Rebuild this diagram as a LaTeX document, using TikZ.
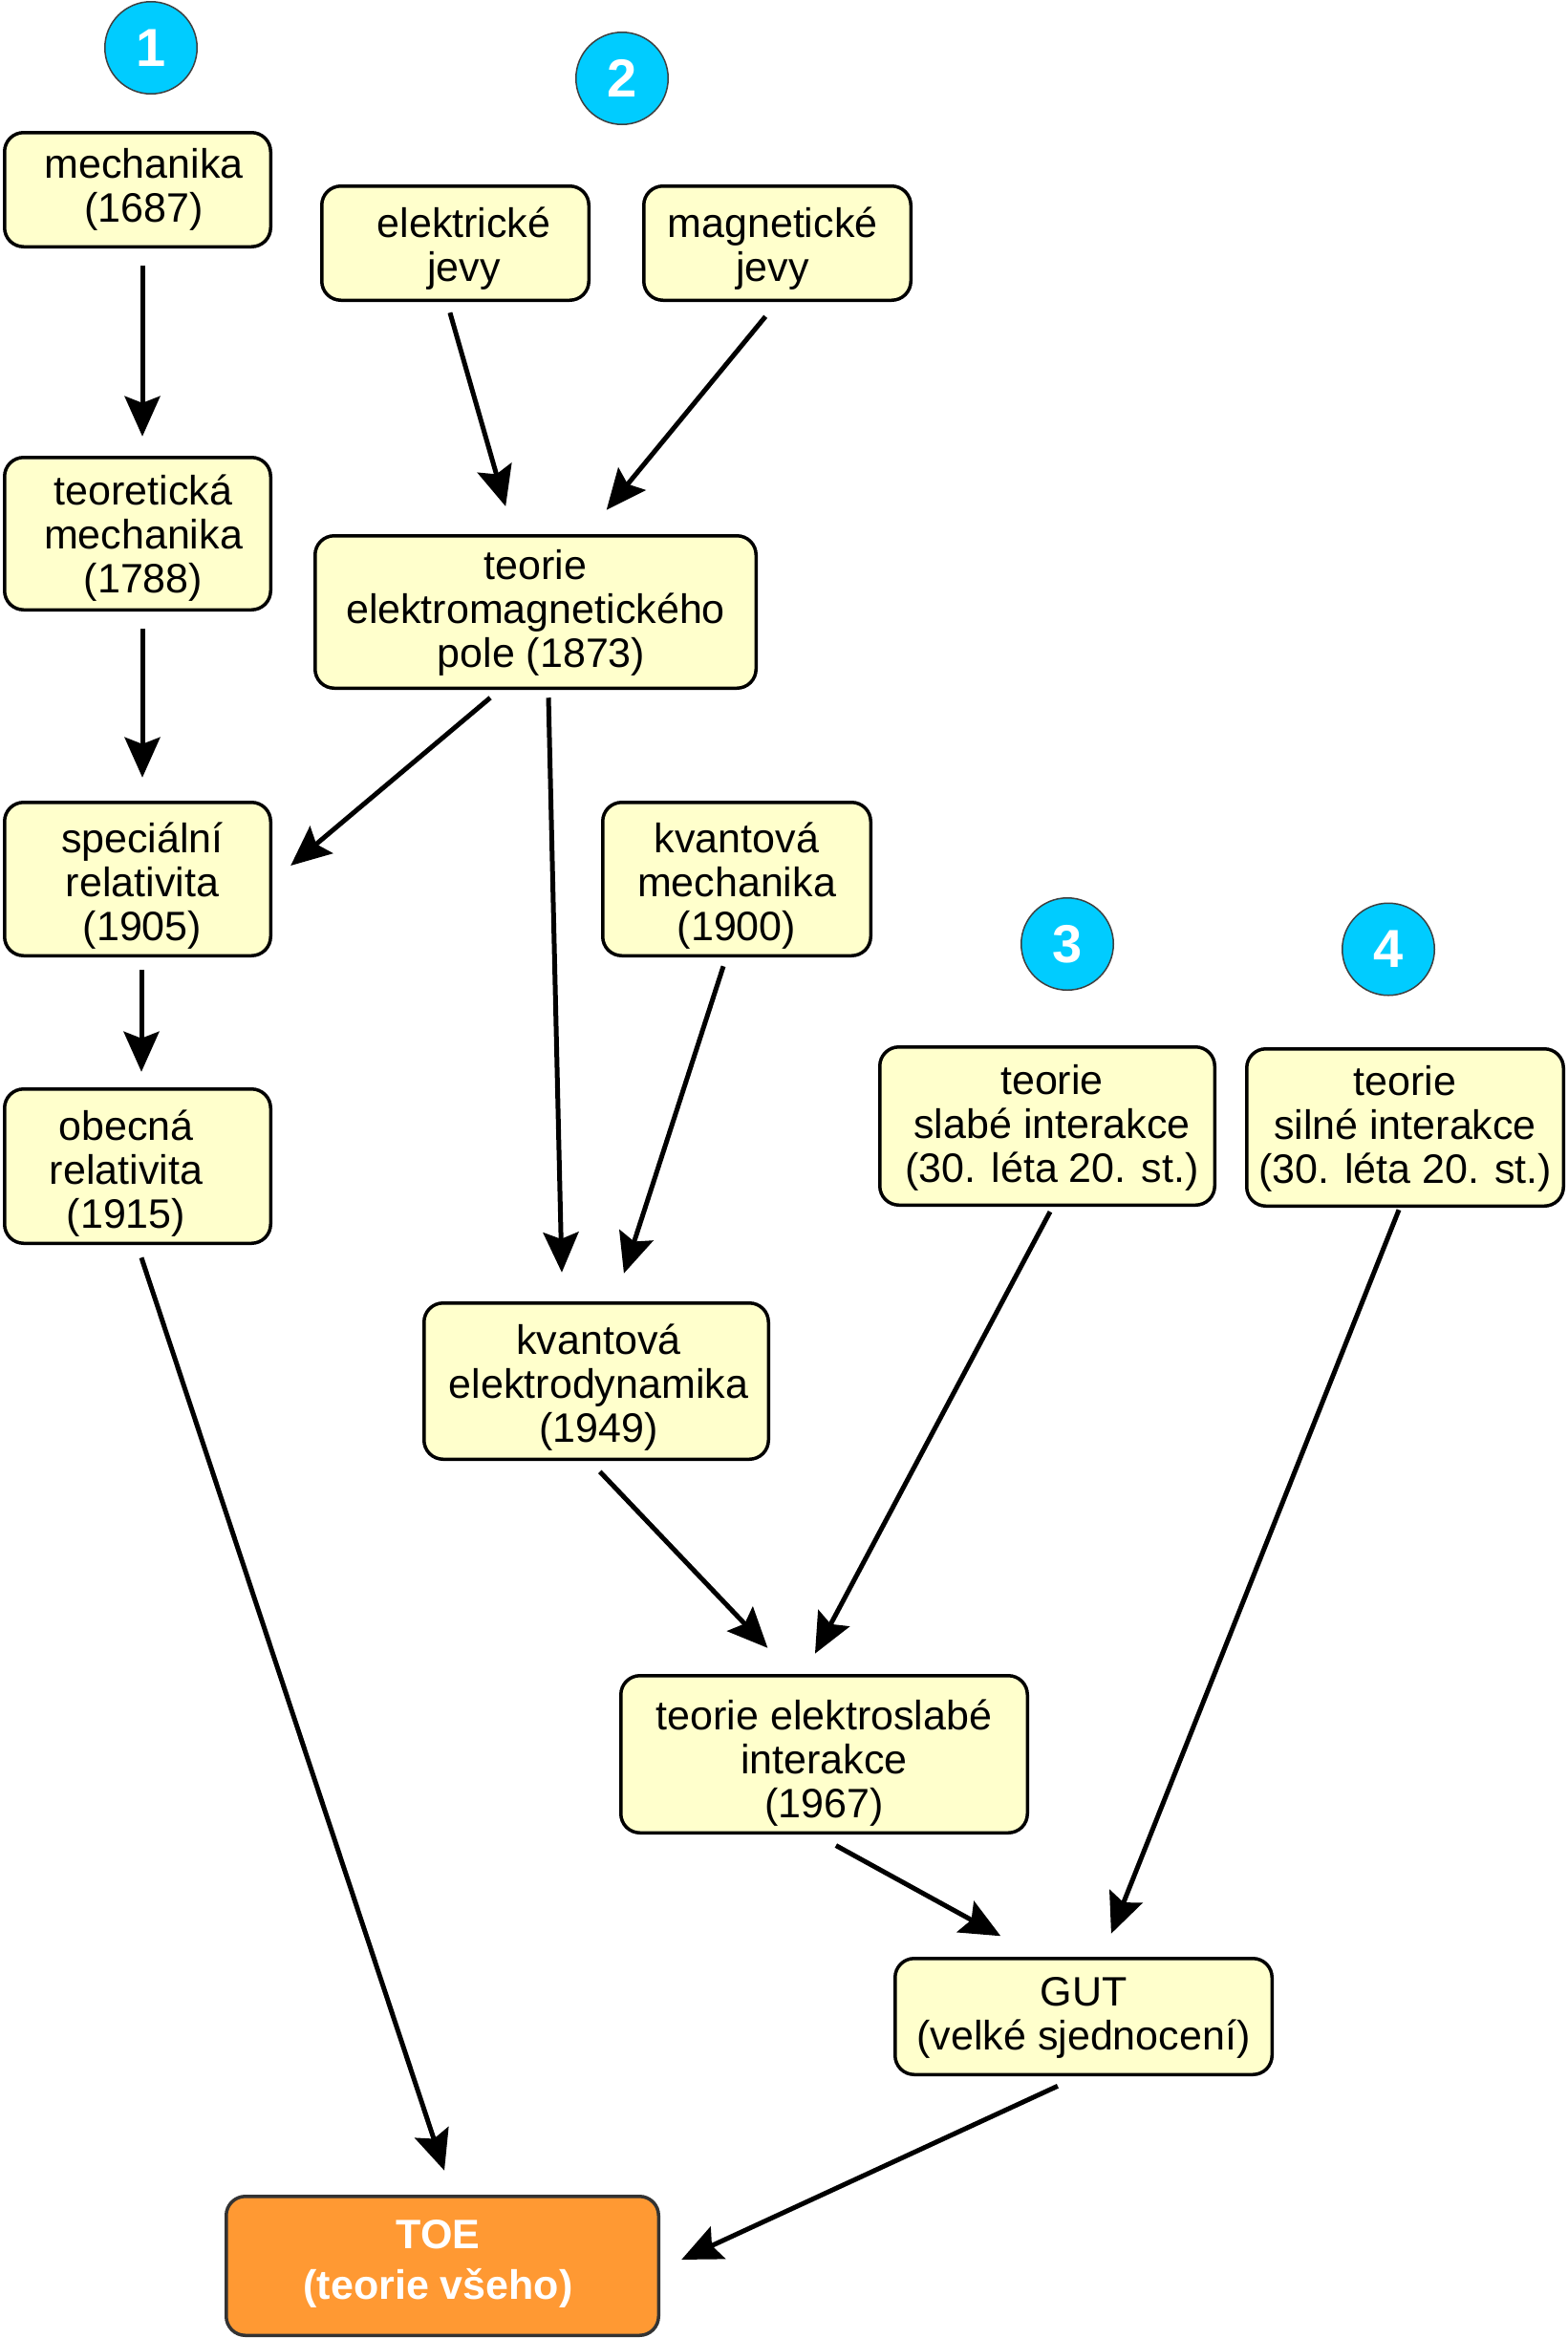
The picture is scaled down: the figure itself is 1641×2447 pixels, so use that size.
\documentclass[tikz,border=0pt]{standalone}
\usepackage{fontspec}
\setmainfont{Liberation Sans}
\usetikzlibrary{arrows.meta,calc}
\definecolor{boxfill}{HTML}{FFFFCC}
\definecolor{numfill}{HTML}{00CCFF}
\definecolor{toefill}{HTML}{FF9933}
\definecolor{toeline}{HTML}{333333}
\begin{document}
\begin{tikzpicture}[x=1pt,y=-1pt,
 box/.style={draw=black, line width=3.5pt, fill=boxfill, rounded corners=20pt,
   inner sep=0pt, outer sep=0pt},
 toebox/.style={box, fill=toefill, draw=toeline},
 txt/.style={align=center, inner sep=0pt, font=\fontsize{43}{46}\selectfont},
 toetxt/.style={align=center, inner sep=0pt, text=white, font=\bfseries\fontsize{43}{53}\selectfont},
 num/.style={circle, draw=black!75, line width=1.5pt, fill=numfill, minimum size=96.5pt,
   inner sep=0pt, outer sep=0pt, text=white, font=\bfseries\fontsize{56}{56}\selectfont},
 arr/.style={line width=5pt, -{Stealth[length=42pt,width=37pt,inset=7pt]}},
]
\fill[white] (0,0) rectangle (1641,2447);
\useasboundingbox (0,0) rectangle (1641,2447);

% numbered circles
\node[num] (n1) at (158,50) {1};
\node[num] (n2) at (651,82) {2};
\node[num] (n3) at (1117,988) {3};
\node[num] (n4) at (1453,993.5) {4};

% boxes
\node[box, minimum width=278.5pt, minimum height=119.5pt] (mech) at (144,198.5) {};
\node[box, minimum width=278.5pt, minimum height=159.5pt] (tmech) at (144,558.5) {};
\node[box, minimum width=279.5pt, minimum height=119.5pt] (el) at (476.5,254.5) {};
\node[box, minimum width=279.5pt, minimum height=119.5pt] (mag) at (813.5,254.5) {};
\node[box, minimum width=461.5pt, minimum height=159.5pt] (em) at (560.5,640.5) {};
\node[box, minimum width=278.5pt, minimum height=160.5pt] (srel) at (144,920) {};
\node[box, minimum width=280.5pt, minimum height=160.5pt] (kmech) at (771,920) {};
\node[box, minimum width=278.5pt, minimum height=161.5pt] (orel) at (144,1220.5) {};
\node[box, minimum width=350.5pt, minimum height=165.5pt] (slabe) at (1096,1178.5) {};
\node[box, minimum width=331.5pt, minimum height=164.5pt] (silne) at (1470.5,1180) {};
\node[box, minimum width=360.5pt, minimum height=163.5pt] (qed) at (624,1445.5) {};
\node[box, minimum width=425.5pt, minimum height=164.5pt] (ews) at (862.5,1836) {};
\node[box, minimum width=394.5pt, minimum height=121.5pt] (gut) at (1134,2110.5) {};
\node[toebox, minimum width=452.5pt, minimum height=145.5pt] (toe) at (463,2371.5) {};

% texts
\node[txt] (mech-t) at ($(mech.center)+(6.5,0)$) {mechanika\\(1687)};
\node[txt] (tmech-t) at ($(tmech.center)+(6,5)$) {teoretická\\mechanika\\(1788)};
\node[txt] (el-t) at ($(el.center)+(9,6)$) {elektrické\\jevy};
\node[txt] (mag-t) at ($(mag.center)+(-5,6)$) {magnetické\\jevy};
\node[txt] (em-t) at ($(em.center)+(0,1)$) {teorie\\elektromagnetického\\\hspace*{12pt}pole (1873)};
\node[txt] (srel-t) at ($(srel.center)+(5,7.5)$) {speciální\\relativita\\(1905)};
\node[txt] (kmech-t) at ($(kmech.center)+(0,7.5)$) {kvantová\\mechanika\\(1900)};
\node[txt] (orel-t) at ($(orel.center)+(-12,7.5)$) {obecná\\relativita\\(1915)};
\node[txt] (slabe-t) at ($(slabe.center)+(5,2)$) {teorie\\slabé interakce\\(30. léta 20. st.)};
\node[txt] (silne-t) at ($(silne.center)+(0,1)$) {teorie\\silné interakce\\(30. léta 20. st.)};
\node[txt] (qed-t) at ($(qed.center)+(2.5,6.5)$) {kvantová\\elektrodynamika\\(1949)};
\node[txt] (ews-t) at ($(ews.center)+(0,9)$) {teorie elektroslabé\\interakce\\(1967)};
\node[txt] (gut-t) at ($(gut.center)+(0,1.5)$) {GUT\\(velké sjednocení)};
\node[toetxt] (toe-t) at ($(toe.center)+(-4.5,-2)$) {TOE\\(teorie všeho)};

% connectors
\draw[arr, shorten <=20pt, shorten >=22pt] ($(mech.south)+(5,0)$) -- ($(tmech.north)+(5,0)$);
\draw[arr, shorten <=20pt, shorten >=26pt] ($(tmech.south)+(5,0)$) -- ($(srel.north)+(5,0)$);
\draw[arr, shorten <=15pt, shorten >=18pt] ($(srel.south)+(4,0)$) -- ($(orel.north)+(4,0)$);
\draw[arr, shorten <=13.5pt, shorten >=32pt] ($(el.south)+(-9.3,0)$) -- ($(em.north)+(-22.5,0)$);
\draw[arr, shorten <=22pt, shorten >=35pt] ($(mag.south)+(1.6,0)$) -- ($(em.north)+(52,0)$);
\draw[arr, shorten <=15.6pt, shorten >=27.4pt] ($(em.south)+(-35.5,0)$) -- ($(srel.east)+(0,3.6)$);
\draw[arr, shorten <=10pt, shorten >=32pt] ($(em.south)+(13.3,0)$) -- ($(qed.north)+(-35.3,0)$);
\draw[arr, shorten <=11.6pt, shorten >=32.6pt] ($(kmech.south)+(-10.4,0)$) -- ($(qed.north)+(18.9,0)$);
\draw[arr, shorten <=15.8pt, shorten >=28.5pt] ($(orel.south)+(-1,0)$) -- ($(toe.north)+(11,0)$);
\draw[arr, shorten <=18pt, shorten >=40pt] ($(qed.south)+(-8.6,0)$) -- ($(ews.north)+(-31.5,0)$);
\draw[arr, shorten <=7.9pt, shorten >=26.1pt] ($(slabe.south)+(6.7,0)$) -- ($(ews.north)+(-21.8,0)$);
\draw[arr, shorten <=4.3pt, shorten >=28pt] ($(silne.south)+(-4.9,0)$) -- ($(gut.north)+(18.6,0)$);
\draw[arr, shorten <=27.6pt, shorten >=48.8pt] ($(ews.south)+(-11.8,0)$) -- ($(gut.north)+(-44,0)$);
\draw[arr, shorten <=28.7pt, shorten >=26.4pt] ($(gut.south)+(-1,0)$) -- ($(toe.east)+(0,4.5)$);
\end{tikzpicture}
\end{document}
